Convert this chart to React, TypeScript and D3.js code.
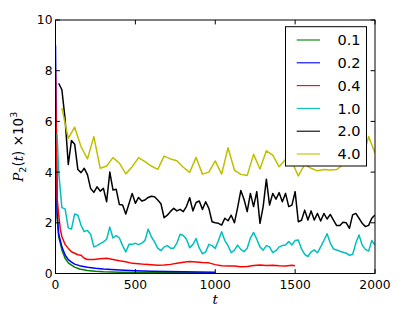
import React from 'react'
import * as d3 from 'd3'

// legend labels and colours (matplotlib classic)
const labels = ['0.1', '0.2', '0.4', '1.0', '2.0', '4.0']
const colors = ['#008000', '#0000ff', '#ff0000', '#00bfbf', '#000000', '#bfbf00']

// times for the two fast-decaying series
const tFast = [0, 10, 20, 30, 40, 60, 80, 100, 120, 150, 200, 250, 300, 400, 500, 600, 700, 800, 900, 1000]
const green = [6.0, 2.2, 1.45, 1.2, 0.93, 0.6, 0.42, 0.33, 0.25, 0.18, 0.12, 0.09, 0.07, 0.05, 0.04, 0.035, 0.03, 0.03, 0.025, 0.02]
const blue = [9.0, 2.4, 1.55, 1.3, 1.05, 0.73, 0.55, 0.45, 0.37, 0.31, 0.25, 0.21, 0.18, 0.14, 0.11, 0.09, 0.08, 0.07, 0.06, 0.05]

const tRed = [0, 10, 20, 30, 40, 60, 80, 100, 120, 140, 160, 180, 200, 240, 280, 320, 360, 400, 440, 480, 520, 560, 600, 640, 680, 720, 760, 800, 840, 880, 920, 960, 1000, 1040, 1080, 1120, 1160, 1200, 1240, 1280, 1320, 1360, 1400, 1440, 1480, 1500]
const red = [8.0, 3.0, 2.3, 1.75, 1.45, 1.15, 0.99, 0.86, 0.8, 0.74, 0.72, 0.6, 0.55, 0.55, 0.58, 0.6, 0.55, 0.5, 0.46, 0.4, 0.38, 0.36, 0.35, 0.33, 0.34, 0.36, 0.4, 0.44, 0.47, 0.45, 0.43, 0.42, 0.35, 0.31, 0.3, 0.3, 0.27, 0.28, 0.32, 0.34, 0.32, 0.33, 0.31, 0.3, 0.33, 0.31]

// cyan and black sampled every 20
const tCyan = [10, 20, 40, 60, 80, 100, 120, 140, 160, 180, 200, 220, 240, 260, 280, 300, 320, 340, 360, 380, 400, 420, 440, 460, 480, 500, 520, 540, 560, 580, 600, 620, 640, 660, 680, 700, 720, 740, 760, 780, 800, 820, 840, 860, 880, 900, 920, 940, 960, 980, 1000, 1020, 1040, 1060, 1080, 1100, 1120, 1140, 1160, 1180, 1200, 1220, 1240, 1260, 1280, 1300, 1320, 1340, 1360, 1380, 1400, 1420, 1440, 1460, 1480, 1500, 1520, 1540, 1560, 1580, 1600, 1620, 1640, 1660, 1680, 1700, 1720, 1740, 1760, 1780, 1800, 1820, 1840, 1860, 1880, 1900, 1920, 1940, 1960, 1980, 2000]
const cyan = [5.5, 4.0, 2.6, 2.55, 1.8, 1.75, 2.35, 2.3, 1.9, 1.65, 1.7, 1.55, 1.05, 1.1, 1.18, 1.25, 1.35, 1.83, 1.4, 1.5, 1.4, 1.1, 0.85, 1.15, 1.15, 1.19, 1.14, 1.2, 1.3, 1.75, 1.45, 1.25, 1.0, 0.9, 1.05, 1.1, 1.0, 1.0, 1.2, 1.55, 1.5, 1.35, 1.02, 1.14, 1.38, 1.0, 0.78, 0.85, 1.15, 1.1, 0.99, 1.3, 1.65, 1.3, 1.1, 0.82, 0.92, 1.12, 0.95, 0.86, 1.0, 1.4, 1.62, 1.35, 1.05, 0.92, 1.1, 1.05, 0.82, 0.9, 1.05, 1.1, 1.12, 1.26, 1.13, 1.3, 1.32, 0.97, 0.75, 0.67, 0.85, 0.93, 0.82, 1.05, 1.3, 1.57, 1.2, 0.97, 0.93, 0.88, 0.84, 0.8, 0.72, 0.75, 1.2, 1.52, 1.12, 0.95, 0.88, 1.3, 1.12]

const tBlack = [20, 40, 60, 80, 100, 120, 140, 160, 180, 200, 220, 240, 260, 280, 300, 320, 340, 360, 380, 400, 420, 440, 460, 480, 500, 520, 540, 560, 580, 600, 620, 640, 660, 680, 700, 720, 740, 760, 780, 800, 820, 840, 860, 880, 900, 920, 940, 960, 980, 1000, 1020, 1040, 1060, 1080, 1100, 1120, 1140, 1160, 1180, 1200, 1220, 1240, 1260, 1280, 1300, 1320, 1340, 1360, 1380, 1400, 1420, 1440, 1460, 1480, 1500, 1520, 1540, 1560, 1580, 1600, 1620, 1640, 1660, 1680, 1700, 1720, 1740, 1760, 1780, 1800, 1820, 1840, 1860, 1880, 1900, 1920, 1940, 1960, 1980, 2000]
const black = [7.5, 7.25, 6.1, 4.3, 5.25, 5.1, 4.1, 3.98, 4.15, 3.9, 3.35, 3.2, 3.42, 3.25, 3.36, 2.83, 4.0, 3.29, 3.32, 2.72, 2.7, 2.35, 2.75, 3.16, 2.77, 3.0, 2.86, 2.9, 3.0, 3.05, 3.03, 2.9, 2.75, 2.2, 2.3, 2.45, 2.57, 2.47, 2.53, 2.44, 2.65, 2.99, 2.47, 2.8, 2.86, 2.53, 2.83, 2.57, 2.04, 2.0, 1.98, 1.91, 2.18, 2.08, 2.3, 2.0, 2.6, 3.27, 2.93, 2.44, 3.16, 2.64, 3.23, 1.98, 2.64, 3.72, 2.7, 3.16, 2.93, 3.19, 2.83, 3.16, 2.64, 2.7, 3.23, 2.04, 2.1, 2.5, 2.11, 2.47, 2.11, 2.37, 2.07, 2.37, 2.15, 2.33, 2.11, 1.89, 1.89, 2.02, 2.0, 1.78, 2.31, 2.37, 2.18, 1.98, 1.85, 1.9, 2.18, 2.31]

// yellow sampled every 40
const tYellow = [40, 80, 120, 160, 200, 240, 280, 320, 360, 400, 440, 480, 520, 560, 600, 640, 680, 720, 760, 800, 840, 880, 920, 960, 1000, 1040, 1080, 1120, 1160, 1200, 1240, 1280, 1320, 1360, 1400, 1440, 1480, 1520, 1560, 1600, 1640, 1680, 1720, 1760, 1800, 1840, 1880, 1920, 1960, 2000]
const yellow = [6.52, 5.33, 5.77, 5.0, 4.52, 5.4, 4.15, 4.24, 4.57, 4.35, 3.93, 4.21, 4.57, 4.41, 4.24, 4.11, 4.63, 4.52, 4.45, 4.19, 3.99, 4.58, 3.92, 4.0, 4.44, 3.92, 4.96, 4.08, 3.91, 3.87, 4.7, 4.12, 4.84, 4.67, 4.21, 4.5, 4.41, 3.85, 4.3, 4.15, 4.05, 4.1, 4.08, 4.1, 4.3, 4.4, 4.9, 4.5, 5.4, 4.75]

const xTicks = [0, 500, 1000, 1500, 2000]
const yTicks = [0, 2, 4, 6, 8, 10]

const times = [tFast, tFast, tRed, tCyan, tBlack, tYellow]
const series = [green, blue, red, cyan, black, yellow]

export default function App() {
  const width = 399
  const height = 319
  const margin = { top: 20, right: 24, bottom: 45.5, left: 55.5 }
  const innerW = width - margin.left - margin.right
  const innerH = height - margin.top - margin.bottom

  const x = d3.scaleLinear().domain([0, 2000]).range([0, innerW])
  const y = d3.scaleLinear().domain([0, 10]).range([innerH, 0])

  const line = d3.line<[number, number]>()
    .x(d => x(d[0]))
    .y(d => y(d[1]))

  const font = 'DejaVu Sans, sans-serif'
  const tickLen = 4.4
  const legend = { x: 230, y: 6.7, w: 81, h: 139.3, row: 22.8 }

  return (
    <svg width={width} height={height} style={{ position: 'absolute', left: 0, top: 0 }} fontFamily={font}>
      <rect width={width} height={height} fill="#fff" />
      <defs>
        <clipPath id="plot">
          <rect width={innerW} height={innerH} />
        </clipPath>
      </defs>
      <g transform={`translate(${margin.left} ${margin.top})`}>
        <g clipPath="url(#plot)">
          {series.map((vals, i) => (
            <path
              key={labels[i]}
              d={line(vals.map((v, j) => [times[i][j], v] as [number, number])) || ''}
              fill="none"
              stroke={colors[i]}
              strokeWidth={1.5}
              strokeLinejoin="round"
            />
          ))}
        </g>

        {/* ticks on all four sides, pointing in */}
        {xTicks.map(t => (
          <g key={'x' + t} transform={`translate(${x(t)} 0)`}>
            <line y1={innerH} y2={innerH - tickLen} stroke="#000" />
            <line y1={0} y2={tickLen} stroke="#000" />
            <text y={innerH + 15.5} textAnchor="middle" fontSize={12.3}>{t}</text>
          </g>
        ))}
        {yTicks.map(t => (
          <g key={'y' + t} transform={`translate(0 ${y(t)})`}>
            <line x1={0} x2={tickLen} stroke="#000" />
            <line x1={innerW} x2={innerW - tickLen} stroke="#000" />
            <text x={-3} dy="0.36em" textAnchor="end" fontSize={12.3}>{t}</text>
          </g>
        ))}
        <rect width={innerW} height={innerH} fill="none" stroke="#000" strokeWidth={1} />

        {/* axis labels */}
        <text x={innerW / 2} y={innerH + 30.5} textAnchor="middle" fontSize={13.5} fontStyle="italic" fontFamily="DejaVu Serif, serif">t</text>
        <text transform={`translate(${-33} ${innerH / 2}) rotate(-90)`} textAnchor="middle" fontSize={13.5}>
          <tspan fontStyle="italic" fontFamily="DejaVu Serif, serif">P</tspan>
          <tspan fontSize={9.5} dy={3}>2</tspan>
          <tspan dy={-3}>(</tspan>
          <tspan fontStyle="italic" fontFamily="DejaVu Serif, serif">t</tspan>
          <tspan>) ×10</tspan>
          <tspan fontSize={9.5} dy={-6}>3</tspan>
        </text>

        {/* legend */}
        <g transform={`translate(${legend.x} ${legend.y})`}>
          <rect width={legend.w} height={legend.h} fill="#fff" stroke="#000" strokeWidth={1} />
          {labels.map((lab, i) => (
            <g key={lab} transform={`translate(0 ${13.3 + i * legend.row})`}>
              <line x1={11.2} x2={34.5} stroke={colors[i]} strokeWidth={1.1} />
              <text x={52} dy="0.36em" fontSize={14.5}>{lab}</text>
            </g>
          ))}
        </g>
      </g>
    </svg>
  )
}
